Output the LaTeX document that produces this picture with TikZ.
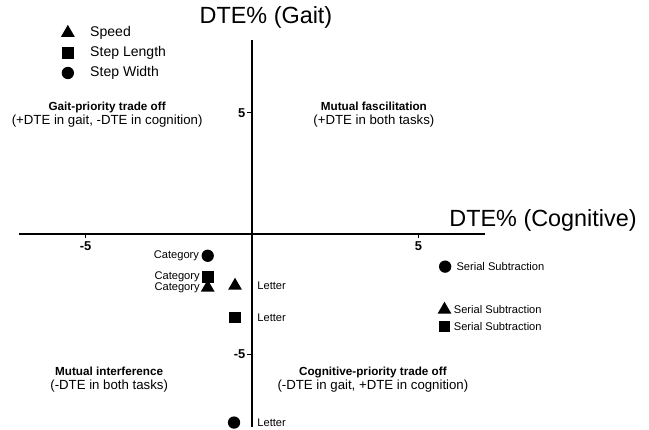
\documentclass[tikz,border=0pt]{standalone}
\usepackage{fontspec}
\setmainfont{Liberation Sans}
\usetikzlibrary{positioning, shapes.geometric}

\begin{document}
\begin{tikzpicture}[x=1cm, y=0.726cm,
    marker/.style={fill=black, draw=none, inner sep=0pt},
    dot/.style={marker, circle, minimum size=0.37cm},
    box/.style={marker, rectangle, minimum size=0.35cm},
    tri/.style={marker, regular polygon, regular polygon sides=3, minimum size=0.48cm},
    pointLabel/.style={font=\fontsize{9.5}{11}\selectfont, inner sep=1pt},
    legendLabel/.style={font=\fontsize{12}{14}\selectfont, inner sep=1pt, anchor=west},
    quadLabel/.style={align=center, inner sep=0pt},
    tickLabel/.style={font=\fontsize{11}{13}\selectfont\bfseries, inner sep=1pt}]

    % Define axis limits
    \def\xLimit{7}
    \def\yLimit{8}

    % Fix the margins
    \useasboundingbox (-7.568,-8.099) rectangle (11.922,9.669);

    % Draw axes
    \draw[line width=1.6pt] (-\xLimit,0) -- (\xLimit,0);
    \draw[line width=1.6pt] (0,-\yLimit) -- (0,\yLimit);

    % Ticks and tick labels
    \foreach \t/\n in {-5/m, 5/p} {
        \draw[line width=1pt] (\t,0) -- (\t,-0.17) node[tickLabel, below=2pt] (xtick\n) {\t};
        \draw[line width=1pt] (0,\t) -- (-0.15,\t) node[tickLabel, left] (ytick\n) {\t};
    }

    % Axis titles
    \node[font=\fontsize{20}{24}\selectfont] (titleGait) at (0.42,8.93) {DTE\% (Gait)};
    \node[font=\fontsize{20}{24}\selectfont] (titleCog) at (8.74,0.54) {DTE\% (Cognitive)};

    % Legend
    \node[tri] (legSpeed) at (-5.53,8.31) {};
    \node[box] (legLength) at (-5.53,7.48) {};
    \node[dot] (legWidth) at (-5.53,6.65) {};
    \node[legendLabel, right=0.63cm of legSpeed.center] (legSpeedText) {Speed};
    \node[legendLabel, right=0.63cm of legLength.center] (legLengthText) {Step Length};
    \node[legendLabel, right=0.63cm of legWidth.center] (legWidthText) {Step Width};

    % Quadrant labels
    \node[quadLabel] (gaitPrio) at (-4.35,4.93)
        {\fontsize{10}{15}\selectfont\bfseries Gait-priority trade off\\
         \fontsize{11.3}{13}\selectfont (+DTE in gait, -DTE in cognition)};
    \node[quadLabel] (mutualFac) at (3.66,4.93)
        {\fontsize{10}{15}\selectfont\bfseries Mutual fascilitation\\
         \fontsize{11.3}{13}\selectfont (+DTE in both tasks)};
    \node[quadLabel] (mutualInt) at (-4.29,-6.05)
        {\fontsize{10}{13}\selectfont\bfseries Mutual interference\\
         \fontsize{11.3}{13}\selectfont (-DTE in both tasks)};
    \node[quadLabel] (cogPrio) at (3.63,-6.05)
        {\fontsize{10}{13}\selectfont\bfseries Cognitive-priority trade off\\
         \fontsize{11.3}{13}\selectfont (-DTE in gait, +DTE in cognition)};

    % Data points: Category
    \node[dot] (catDot) at (-1.33,-0.91) {};
    \node[box] (catBox) at (-1.33,-1.78) {};
    \node[tri] (catTri) at (-1.33,-2.23) {};
    \node[pointLabel, left=0.22cm of catDot.center] (catDotText) {Category};
    \node[pointLabel, left=0.2cm of catBox.center] (catBoxText) {Category};
    \node[pointLabel, left=0.2cm of catTri.center] (catTriText) {Category};

    % Data points: Letter
    \node[tri] (letTri) at (-0.51,-2.15) {};
    \node[box] (letBox) at (-0.51,-3.47) {};
    \node[dot] (letDot) at (-0.54,-7.81) {};
    \node[pointLabel, right=0.63cm of letTri.center] (letTriText) {Letter};
    \node[pointLabel, right=0.63cm of letBox.center] (letBoxText) {Letter};
    \node[pointLabel, right=0.66cm of letDot.center] (letDotText) {Letter};

    % Data points: Serial Subtraction
    \node[dot] (serDot) at (5.8,-1.36) {};
    \node[tri] (serTri) at (5.78,-3.14) {};
    \node[box] (serBox) at (5.78,-3.84) {};
    \node[pointLabel, right=0.3cm of serDot.center] (serDotText) {Serial Subtraction};
    \node[pointLabel, right=0.24cm of serTri.center] (serTriText) {Serial Subtraction};
    \node[pointLabel, right=0.24cm of serBox.center] (serBoxText) {Serial Subtraction};

\end{tikzpicture}
\end{document}
